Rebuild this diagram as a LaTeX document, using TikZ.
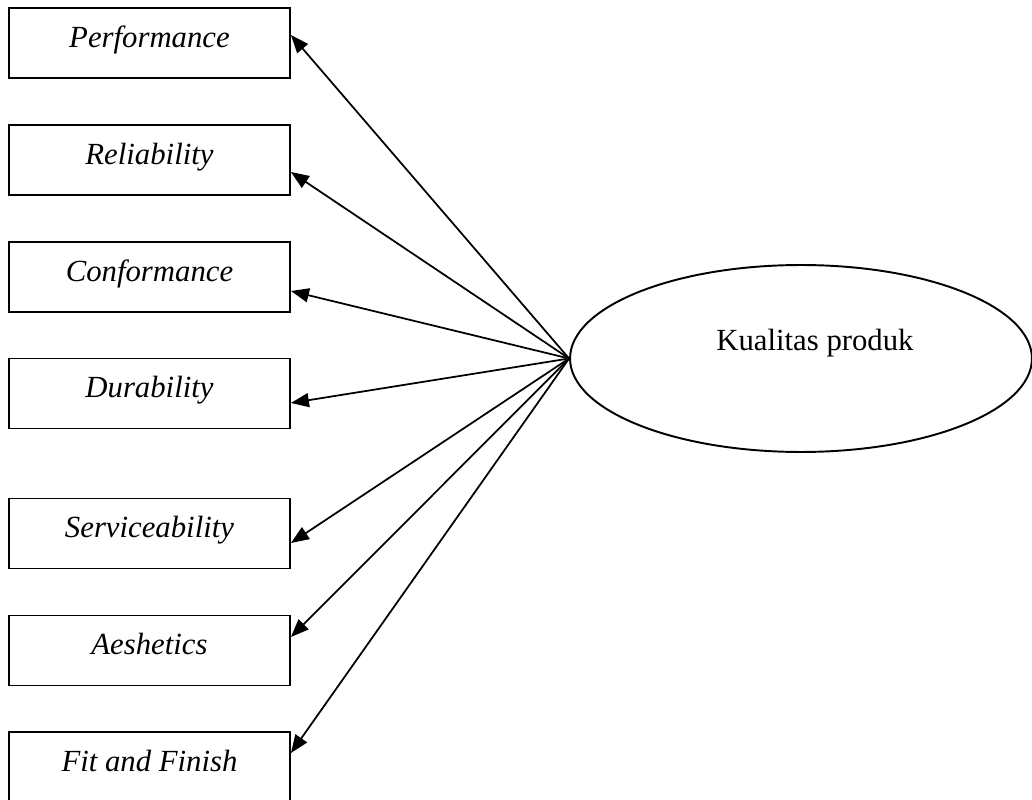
\documentclass[tikz,border=0pt]{standalone}
\usepackage{fontspec}
\setmainfont{Liberation Serif}
\usetikzlibrary{shapes.geometric, arrows.meta}

\begin{document}
\begin{tikzpicture}[x=0.02cm, y=-0.02cm,
    dimbox/.style={draw, line width=1.1pt, minimum width=5.62cm, minimum height=1.4cm,
        text height=0.4cm, text depth=0.22cm, font=\fontsize{17.5}{21}\selectfont\itshape},
    latent/.style={draw, ellipse, line width=1.1pt, minimum width=9.24cm, minimum height=3.74cm,
        text height=0.2cm, text depth=0.52cm, font=\fontsize{17.5}{21}\selectfont},
    arr/.style={-{Triangle[length=0.36cm, width=0.28cm]}, line width=1pt}]
    \useasboundingbox (0,0) rectangle (1032,800);

    % Dimension boxes
    \node[dimbox] (perf) at (149.5,43) {Performance};
    \node[dimbox] (reli) at (149.5,160) {Reliability};
    \node[dimbox] (conf) at (149.5,277) {Conformance};
    \node[dimbox] (dura) at (149.5,393.5) {Durability};
    \node[dimbox] (serv) at (149.5,533.5) {Serviceability};
    \node[dimbox] (aesh) at (149.5,650.5) {Aeshetics};
    \node[dimbox] (fit) at (149.5,767) {Fit and Finish};

    % Latent variable
    \node[latent] (kual) at (801,358.5) {\hspace*{0.56cm}Kualitas produk};

    % Arrows from latent variable to dimensions
    \foreach \b/\up in {perf/8, reli/-12, conf/-14, dura/-9.5, serv/-9.5, aesh/13.5, fit/14} {
        \draw[arr] (kual.west) -- ([yshift=\up*0.02cm]\b.east);
    }
\end{tikzpicture}
\end{document}
